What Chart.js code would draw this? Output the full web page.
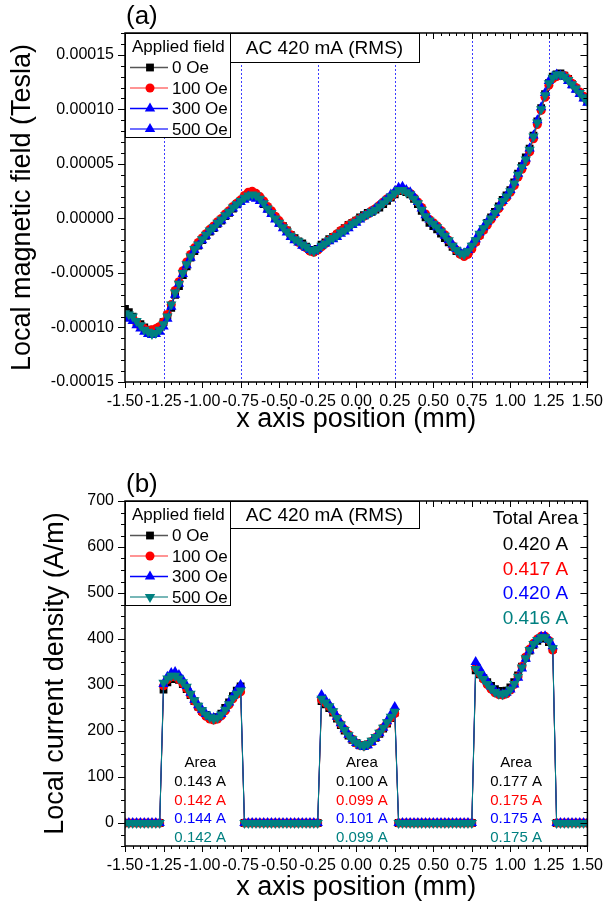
<!DOCTYPE html>
<html>
<head>
<meta charset="utf-8">
<title>Local magnetic field and current density</title>
<script src="https://cdn.jsdelivr.net/npm/chart.js@4.4.1/dist/chart.umd.min.js"></script>
<style>
  html, body { margin: 0; padding: 0; background: #fff; }
  body { width: 613px; height: 915px; position: relative; overflow: hidden; }
  canvas { position: absolute; left: 0; }
  #fieldChart { top: 0; }
  #densityChart { top: 450px; }
</style>
</head>
<body>
<canvas id="fieldChart" width="613" height="450"></canvas>
<canvas id="densityChart" width="613" height="465"></canvas>
<script>
// Données
const xTicks = [-1.5, -1.25, -1, -0.75, -0.5, -0.25, 0, 0.25, 0.5, 0.75, 1, 1.25, 1.5];
const fieldTicks = [-0.00015, -0.0001, -0.00005, 0, 0.00005, 0.0001, 0.00015];
const densityTicks = [0, 100, 200, 300, 400, 500, 600, 700];
const guideLines = [-1.25, -0.75, -0.25, 0.25, 0.75, 1.25];
const fieldLabels = ['0 Oe', '100 Oe', '300 Oe', '500 Oe'];
const totalAreas = ['0.420 A', '0.417 A', '0.420 A', '0.416 A'];
const areaLeft = ['0.143 A', '0.142 A', '0.144 A', '0.142 A'];
const areaMiddle = ['0.100 A', '0.099 A', '0.101 A', '0.099 A'];
const areaRight = ['0.177 A', '0.175 A', '0.175 A', '0.175 A'];

// Positions de mesure (mm), communes aux deux graphiques
const positionX = [
  -1.5, -1.475, -1.45, -1.425, -1.4, -1.375, -1.35, -1.325, -1.3, -1.275,
  -1.25, -1.225, -1.2, -1.175, -1.15, -1.125, -1.1, -1.075, -1.05, -1.025,
  -1, -0.975, -0.95, -0.925, -0.9, -0.875, -0.85, -0.825, -0.8, -0.775,
  -0.75, -0.725, -0.7, -0.675, -0.65, -0.625, -0.6, -0.575, -0.55, -0.525,
  -0.5, -0.475, -0.45, -0.425, -0.4, -0.375, -0.35, -0.325, -0.3, -0.275,
  -0.25, -0.225, -0.2, -0.175, -0.15, -0.125, -0.1, -0.075, -0.05, -0.025,
  0, 0.025, 0.05, 0.075, 0.1, 0.125, 0.15, 0.175, 0.2, 0.225,
  0.25, 0.275, 0.3, 0.325, 0.35, 0.375, 0.4, 0.425, 0.45, 0.475,
  0.5, 0.525, 0.55, 0.575, 0.6, 0.625, 0.65, 0.675, 0.7, 0.725,
  0.75, 0.775, 0.8, 0.825, 0.85, 0.875, 0.9, 0.925, 0.95, 0.975,
  1, 1.025, 1.05, 1.075, 1.1, 1.125, 1.15, 1.175, 1.2, 1.225,
  1.25, 1.275, 1.3, 1.325, 1.35, 1.375, 1.4, 1.425, 1.45, 1.475,
  1.5
];

// (a) champ magnétique local (Tesla)
const field0 = [
  -8.3e-5, -8.6e-5, -9.0e-5, -9.5e-5, -9.7e-5, -10.0e-5, -10.2e-5, -10.4e-5, -10.3e-5, -10.0e-5,
  -9.5e-5, -8.9e-5, -8.2e-5, -7.0e-5, -6.2e-5, -5.2e-5, -4.4e-5, -3.6e-5, -3.0e-5, -2.5e-5,
  -2.0e-5, -1.6e-5, -1.2e-5, -0.9e-5, -0.5e-5, -0.2e-5, 0.2e-5, 0.5e-5, 0.9e-5, 1.3e-5,
  1.6e-5, 1.9e-5, 2.2e-5, 2.2e-5, 2.0e-5, 1.7e-5, 1.3e-5, 0.9e-5, 0.5e-5, 0.1e-5,
  -0.4e-5, -0.7e-5, -1.1e-5, -1.5e-5, -1.8e-5, -2.1e-5, -2.3e-5, -2.6e-5, -2.9e-5, -2.9e-5,
  -2.8e-5, -2.4e-5, -2.2e-5, -1.9e-5, -1.7e-5, -1.5e-5, -1.2e-5, -0.9e-5, -0.6e-5, -0.4e-5,
  -0.2e-5, 0.1e-5, 0.3e-5, 0.5e-5, 0.6e-5, 0.8e-5, 1.0e-5, 1.3e-5, 1.6e-5, 1.9e-5,
  2.2e-5, 2.5e-5, 2.6e-5, 2.4e-5, 2.2e-5, 1.8e-5, 1.3e-5, 0.7e-5, 0.1e-5, -0.4e-5,
  -0.7e-5, -1.0e-5, -1.4e-5, -1.8e-5, -2.2e-5, -2.6e-5, -3.0e-5, -3.2e-5, -3.3e-5, -3.1e-5,
  -2.6e-5, -2.1e-5, -1.5e-5, -1.0e-5, -0.4e-5, 0.1e-5, 0.6e-5, 1.1e-5, 1.7e-5, 2.1e-5,
  2.6e-5, 3.3e-5, 4.1e-5, 4.8e-5, 5.6e-5, 6.4e-5, 7.6e-5, 8.9e-5, 10.1e-5, 11.4e-5,
  12.4e-5, 13.0e-5, 13.2e-5, 13.3e-5, 13.1e-5, 12.8e-5, 12.3e-5, 11.9e-5, 11.5e-5, 11.1e-5,
  10.7e-5
];
const field100 = [
  -8.8e-5, -9.0e-5, -9.2e-5, -9.5e-5, -9.9e-5, -10.1e-5, -10.3e-5, -10.2e-5, -10.1e-5, -9.9e-5,
  -9.5e-5, -8.8e-5, -7.9e-5, -6.6e-5, -5.8e-5, -4.8e-5, -4.0e-5, -3.3e-5, -2.7e-5, -2.2e-5,
  -1.8e-5, -1.4e-5, -1.0e-5, -0.7e-5, -0.3e-5, 0.0e-5, 0.4e-5, 0.7e-5, 1.1e-5, 1.4e-5,
  1.7e-5, 2.1e-5, 2.4e-5, 2.5e-5, 2.3e-5, 2.0e-5, 1.6e-5, 1.1e-5, 0.7e-5, 0.2e-5,
  -0.2e-5, -0.7e-5, -1.1e-5, -1.5e-5, -1.9e-5, -2.2e-5, -2.5e-5, -2.7e-5, -3.0e-5, -3.1e-5,
  -2.9e-5, -2.6e-5, -2.3e-5, -2.0e-5, -1.7e-5, -1.4e-5, -1.1e-5, -0.9e-5, -0.6e-5, -0.4e-5,
  -0.2e-5, 0.0e-5, 0.2e-5, 0.4e-5, 0.7e-5, 0.9e-5, 1.2e-5, 1.5e-5, 1.8e-5, 2.0e-5,
  2.3e-5, 2.6e-5, 2.6e-5, 2.5e-5, 2.3e-5, 1.9e-5, 1.5e-5, 1.0e-5, 0.4e-5, -0.1e-5,
  -0.4e-5, -0.7e-5, -1.1e-5, -1.5e-5, -2.0e-5, -2.5e-5, -2.9e-5, -3.3e-5, -3.5e-5, -3.3e-5,
  -2.8e-5, -2.2e-5, -1.6e-5, -1.1e-5, -0.6e-5, -0.1e-5, 0.4e-5, 0.9e-5, 1.5e-5, 1.9e-5,
  2.4e-5, 3.0e-5, 3.8e-5, 4.5e-5, 5.2e-5, 6.1e-5, 7.3e-5, 8.6e-5, 9.9e-5, 11.1e-5,
  12.2e-5, 12.8e-5, 13.0e-5, 13.1e-5, 13.1e-5, 12.8e-5, 12.4e-5, 12.0e-5, 11.6e-5, 11.2e-5,
  10.8e-5
];
const field300 = [
  -9.0e-5, -9.2e-5, -9.4e-5, -9.8e-5, -10.1e-5, -10.4e-5, -10.6e-5, -10.7e-5, -10.6e-5, -10.4e-5,
  -9.9e-5, -9.2e-5, -8.1e-5, -7.0e-5, -6.0e-5, -5.1e-5, -4.3e-5, -3.6e-5, -2.9e-5, -2.5e-5,
  -2.0e-5, -1.6e-5, -1.2e-5, -0.9e-5, -0.5e-5, -0.2e-5, 0.2e-5, 0.5e-5, 0.9e-5, 1.2e-5,
  1.5e-5, 1.7e-5, 2.0e-5, 1.9e-5, 1.8e-5, 1.6e-5, 1.3e-5, 0.8e-5, 0.4e-5, -0.1e-5,
  -0.5e-5, -0.9e-5, -1.3e-5, -1.7e-5, -2.0e-5, -2.2e-5, -2.5e-5, -2.7e-5, -2.9e-5, -3.0e-5,
  -2.8e-5, -2.5e-5, -2.3e-5, -2.1e-5, -1.9e-5, -1.7e-5, -1.4e-5, -1.2e-5, -0.9e-5, -0.6e-5,
  -0.4e-5, -0.1e-5, 0.2e-5, 0.4e-5, 0.6e-5, 0.9e-5, 1.2e-5, 1.5e-5, 1.8e-5, 2.2e-5,
  2.5e-5, 2.8e-5, 2.9e-5, 2.6e-5, 2.4e-5, 2.0e-5, 1.5e-5, 0.9e-5, 0.3e-5, -0.1e-5,
  -0.5e-5, -0.8e-5, -1.2e-5, -1.6e-5, -2.0e-5, -2.4e-5, -2.8e-5, -3.1e-5, -3.2e-5, -2.9e-5,
  -2.4e-5, -1.9e-5, -1.3e-5, -0.8e-5, -0.3e-5, 0.1e-5, 0.5e-5, 1.1e-5, 1.6e-5, 2.1e-5,
  2.6e-5, 3.3e-5, 4.1e-5, 4.8e-5, 5.5e-5, 6.4e-5, 7.6e-5, 9.0e-5, 10.2e-5, 11.5e-5,
  12.6e-5, 13.0e-5, 13.2e-5, 13.1e-5, 13.0e-5, 12.6e-5, 12.2e-5, 11.8e-5, 11.4e-5, 11.0e-5,
  10.6e-5
];
const field500 = [
  -8.7e-5, -8.8e-5, -9.0e-5, -9.4e-5, -9.8e-5, -10.2e-5, -10.4e-5, -10.6e-5, -10.5e-5, -10.2e-5,
  -9.7e-5, -9.0e-5, -7.9e-5, -6.8e-5, -6.0e-5, -5.0e-5, -4.2e-5, -3.5e-5, -2.8e-5, -2.4e-5,
  -1.9e-5, -1.5e-5, -1.1e-5, -0.8e-5, -0.4e-5, -0.1e-5, 0.3e-5, 0.6e-5, 1.0e-5, 1.3e-5,
  1.6e-5, 1.9e-5, 2.1e-5, 2.2e-5, 2.1e-5, 1.8e-5, 1.4e-5, 0.9e-5, 0.5e-5, 0.0e-5,
  -0.4e-5, -0.8e-5, -1.2e-5, -1.6e-5, -1.9e-5, -2.1e-5, -2.4e-5, -2.6e-5, -2.9e-5, -3.0e-5,
  -2.8e-5, -2.5e-5, -2.3e-5, -2.0e-5, -1.8e-5, -1.6e-5, -1.3e-5, -1.1e-5, -0.8e-5, -0.5e-5,
  -0.3e-5, 0.0e-5, 0.2e-5, 0.4e-5, 0.6e-5, 0.8e-5, 1.1e-5, 1.4e-5, 1.7e-5, 2.0e-5,
  2.3e-5, 2.6e-5, 2.6e-5, 2.4e-5, 2.2e-5, 1.8e-5, 1.4e-5, 0.8e-5, 0.2e-5, -0.2e-5,
  -0.5e-5, -0.8e-5, -1.2e-5, -1.6e-5, -2.0e-5, -2.5e-5, -2.9e-5, -3.2e-5, -3.3e-5, -3.0e-5,
  -2.5e-5, -2.0e-5, -1.4e-5, -0.9e-5, -0.4e-5, 0.0e-5, 0.5e-5, 1.0e-5, 1.6e-5, 2.0e-5,
  2.5e-5, 3.2e-5, 4.0e-5, 4.7e-5, 5.4e-5, 6.3e-5, 7.5e-5, 8.8e-5, 10.0e-5, 11.3e-5,
  12.4e-5, 12.9e-5, 13.2e-5, 13.2e-5, 13.0e-5, 12.7e-5, 12.3e-5, 11.9e-5, 11.5e-5, 11.1e-5,
  10.7e-5
];

// (b) densité de courant locale (A/m)
const density0 = [
  0, 0, 0, 0, 0, 0, 0, 0, 0, 0,
  290, 306, 313, 315, 311, 302, 291, 278, 265, 253, 243, 235, 229, 227, 230, 238, 250, 262, 276, 288, 297,
  0, 0, 0, 0, 0, 0, 0, 0, 0, 0, 0, 0, 0, 0, 0, 0, 0, 0, 0, 0,
  265, 258, 250, 240, 227, 213, 201, 190, 181, 174, 169, 168, 171, 177, 185, 194, 205, 216, 228, 240,
  0, 0, 0, 0, 0, 0, 0, 0, 0, 0, 0, 0, 0, 0, 0, 0, 0, 0, 0, 0,
  332, 323, 315, 306, 298, 291, 287, 286, 288, 295, 306, 321, 340, 359, 375, 387, 396, 401, 402, 393, 378,
  0, 0, 0, 0, 0, 0, 0, 0, 0
];
const density100 = [
  0, 0, 0, 0, 0, 0, 0, 0, 0, 0,
  298, 312, 318, 318, 312, 303, 292, 279, 265, 252, 241, 232, 226, 224, 226, 233, 244, 257, 270, 280, 285,
  0, 0, 0, 0, 0, 0, 0, 0, 0, 0, 0, 0, 0, 0, 0, 0, 0, 0, 0, 0,
  268, 261, 253, 242, 229, 215, 203, 192, 182, 174, 169, 167, 170, 177, 186, 196, 207, 218, 229, 238,
  0, 0, 0, 0, 0, 0, 0, 0, 0, 0, 0, 0, 0, 0, 0, 0, 0, 0, 0, 0,
  337, 325, 313, 301, 291, 283, 279, 278, 281, 289, 301, 318, 340, 361, 378, 391, 400, 406, 406, 397, 376,
  0, 0, 0, 0, 0, 0, 0, 0, 0
];
const density300 = [
  0, 0, 0, 0, 0, 0, 0, 0, 0, 0,
  302, 318, 326, 328, 322, 311, 298, 283, 268, 256, 246, 237, 231, 228, 230, 237, 249, 262, 276, 289, 300,
  0, 0, 0, 0, 0, 0, 0, 0, 0, 0, 0, 0, 0, 0, 0, 0, 0, 0, 0, 0,
  278, 268, 258, 246, 231, 217, 204, 192, 182, 174, 168, 165, 169, 176, 185, 195, 207, 221, 236, 252,
  0, 0, 0, 0, 0, 0, 0, 0, 0, 0, 0, 0, 0, 0, 0, 0, 0, 0, 0, 0,
  350, 336, 321, 308, 297, 288, 282, 280, 283, 290, 301, 316, 336, 357, 375, 388, 398, 405, 406, 398, 384,
  0, 0, 0, 0, 0, 0, 0, 0, 0
];
const density500 = [
  0, 0, 0, 0, 0, 0, 0, 0, 0, 0,
  305, 314, 320, 320, 314, 306, 296, 281, 267, 255, 245, 236, 230, 226, 229, 236, 246, 258, 271, 281, 288,
  0, 0, 0, 0, 0, 0, 0, 0, 0, 0, 0, 0, 0, 0, 0, 0, 0, 0, 0, 0,
  270, 262, 254, 243, 228, 214, 202, 191, 182, 175, 170, 168, 172, 179, 187, 196, 207, 219, 231, 242,
  0, 0, 0, 0, 0, 0, 0, 0, 0, 0, 0, 0, 0, 0, 0, 0, 0, 0, 0, 0,
  335, 324, 313, 302, 293, 285, 281, 280, 283, 290, 302, 318, 338, 358, 376, 389, 398, 404, 404, 395, 380,
  0, 0, 0, 0, 0, 0, 0, 0, 0
];

const FONT = "'Liberation Sans', Arial, sans-serif";
const BLACK = '#000000', RED = '#ff0000', BLUE = '#0000ff', TEAL = '#008080';
Chart.defaults.font.family = FONT;
Chart.defaults.color = '#000';

// Dessine un symbole (carré, rond, triangle)
function drawMarker(ctx, style, x, y, r, color, down) {
  ctx.fillStyle = color;
  ctx.beginPath();
  if (style === 'rect') {
    ctx.rect(x - r * 0.71, y - r * 0.71, r * 1.42, r * 1.42);
  } else if (style === 'circle') {
    ctx.arc(x, y, r, 0, Math.PI * 2);
  } else {
    const d = down ? -1 : 1;
    ctx.moveTo(x, y - r * d);
    ctx.lineTo(x + r * 0.866, y + r * 0.5 * d);
    ctx.lineTo(x - r * 0.866, y + r * 0.5 * d);
    ctx.closePath();
  }
  ctx.fill();
}

// Lignes verticales pointillées
const guidePlugin = {
  id: 'guides',
  beforeDatasetsDraw(chart, args, opts) {
    if (!opts.lines) return;
    const {ctx, chartArea: a, scales: {x}} = chart;
    ctx.save();
    ctx.strokeStyle = '#3b3bff';
    ctx.lineWidth = 1;
    ctx.setLineDash([2, 2]);
    opts.lines.forEach(function(v) {
      const px = Math.round(x.getPixelForValue(v)) + 0.5;
      ctx.beginPath();
      ctx.moveTo(px, a.top);
      ctx.lineTo(px, a.bottom);
      ctx.stroke();
    });
    ctx.restore();
  }
};

// Cadre avec graduations majeures et mineures
const framePlugin = {
  id: 'frame',
  afterDatasetsDraw(chart, args, opts) {
    const {ctx, chartArea: a, scales: {x, y}} = chart;
    ctx.save();
    ctx.strokeStyle = '#000';
    ctx.lineWidth = 1;
    ctx.beginPath();
    const isMajor = (scale, v) => scale.ticks.some(t => Math.abs(t.value - v) < opts.eps);
    let n = Math.round((x.max - x.min) / opts.xMinor);
    for (let i = 0; i <= n; i++) {
      const v = x.min + i * opts.xMinor;
      const px = Math.round(x.getPixelForValue(v)) + 0.5;
      const len = isMajor(x, v) ? 6 : 3;
      ctx.moveTo(px, a.bottom); ctx.lineTo(px, a.bottom + len);
      ctx.moveTo(px, a.top); ctx.lineTo(px, a.top + len);
    }
    n = Math.round((y.max - y.min) / opts.yMinor);
    for (let i = 0; i <= n; i++) {
      const v = y.min + i * opts.yMinor;
      const py = Math.round(y.getPixelForValue(v)) + 0.5;
      const len = isMajor(y, v) ? 7 : 4;
      ctx.moveTo(a.left, py); ctx.lineTo(a.left - len, py);
      ctx.moveTo(a.right, py); ctx.lineTo(a.right - len, py);
    }
    ctx.stroke();
    ctx.lineWidth = 1.5;
    ctx.strokeRect(a.left, a.top, a.right - a.left, a.bottom - a.top);
    ctx.restore();
  }
};

// Légende "Applied field", encadré "AC 420 mA (RMS)", étiquette du panneau et textes
const notesPlugin = {
  id: 'notes',
  afterDraw(chart, args, opts) {
    const {ctx, chartArea: a, scales: {x}} = chart;
    ctx.save();
    ctx.textBaseline = 'middle';

    // (a) / (b)
    ctx.fillStyle = '#000';
    ctx.font = '26px ' + FONT;
    ctx.textAlign = 'left';
    ctx.fillText(opts.panel, a.left + 1, a.top - 16);

    // légende
    const lx = a.left, ly = a.top, lw = 105, lh = opts.legendHeight;
    ctx.fillStyle = '#fff';
    ctx.fillRect(lx, ly, lw, lh);
    ctx.strokeStyle = '#000';
    ctx.lineWidth = 1;
    ctx.strokeRect(lx + 0.5, ly + 0.5, lw, lh);
    ctx.fillStyle = '#000';
    ctx.font = '17px ' + FONT;
    ctx.fillText('Applied field', lx + 7, ly + 14);
    const rows = [34.5, 55, 75.5, 96];
    opts.legend.forEach(function(item, i) {
      const ry = ly + rows[i];
      ctx.strokeStyle = item.line;
      ctx.lineWidth = 1.5;
      ctx.beginPath();
      ctx.moveTo(lx + 5, ry);
      ctx.lineTo(lx + 43, ry);
      ctx.stroke();
      drawMarker(ctx, item.style, lx + 25, ry, item.r, item.color, item.down);
      ctx.fillStyle = '#000';
      ctx.fillText(fieldLabels[i], lx + 47, ry + 1);
    });

    // encadré du courant
    const bx = lx + lw, bw = 189, bh = opts.boxHeight;
    ctx.fillStyle = '#fff';
    ctx.fillRect(bx, ly, bw, bh);
    ctx.strokeStyle = '#000';
    ctx.lineWidth = 1;
    ctx.strokeRect(bx + 0.5, ly + 0.5, bw, bh);
    ctx.fillStyle = '#000';
    ctx.font = '19px ' + FONT;
    ctx.textAlign = 'center';
    ctx.fillText('AC 420 mA (RMS)', bx + bw / 2, ly + bh / 2 + 1);

    // aires
    if (opts.areas) {
      const cols = [BLACK, RED, BLUE, TEAL];
      ctx.font = '19px ' + FONT;
      ctx.fillText('Total Area', a.right - 52, a.top + 18);
      totalAreas.forEach(function(t, i) {
        ctx.fillStyle = cols[i];
        ctx.fillText(t, a.right - 52, a.top + 44 + i * 24.5);
      });
      ctx.font = '15px ' + FONT;
      opts.areas.forEach(function(group) {
        const cx = x.getPixelForValue(group.at);
        ctx.fillStyle = '#000';
        ctx.fillText('Area', cx, a.top + 262);
        group.values.forEach(function(t, i) {
          ctx.fillStyle = cols[i];
          ctx.fillText(t, cx, a.top + 281 + i * 18.5);
        });
      });
    }
    ctx.restore();
  }
};

function makeSeries(ys, label, color, style, radius, order, down) {
  return {
    label: label,
    data: ys.map(function(v, i) { return {x: positionX[i], y: v}; }),
    borderColor: color,
    backgroundColor: color,
    borderWidth: 1,
    pointStyle: style,
    pointRadius: radius,
    pointBorderWidth: 0,
    pointRotation: down ? 180 : 0,
    tension: 0,
    order: order
  };
}

function makeOptions(cfg) {
  return {
    responsive: false,
    animation: false,
    events: [],
    layout: {padding: {left: 0, right: 16, top: cfg.top, bottom: 0}},
    scales: {
      x: {
        type: 'linear',
        min: -1.5,
        max: 1.5,
        afterBuildTicks: function(s) { s.ticks = xTicks.map(v => ({value: v})); },
        afterFit: function(s) { s.height = cfg.xHeight; },
        grid: {display: false, drawTicks: false},
        border: {display: false},
        ticks: {
          padding: 10, maxRotation: 0, autoSkip: false, color: '#000',
          font: {size: 16},
          callback: v => Number(v).toFixed(2)
        },
        title: {
          display: true, text: 'x axis position (mm)', color: '#000',
          font: {size: 27}, padding: {top: 0, bottom: cfg.xTitlePad}
        }
      },
      y: {
        type: 'linear',
        min: cfg.yMin,
        max: cfg.yMax,
        afterBuildTicks: function(s) { s.ticks = cfg.yTicks.map(v => ({value: v})); },
        afterFit: function(s) { s.width = 125; },
        grid: {display: false, drawTicks: false},
        border: {display: false},
        ticks: {
          padding: 11, color: '#000', font: {size: 16},
          callback: cfg.yFormat
        },
        title: {
          display: true, text: cfg.yTitle, color: '#000',
          font: {size: 27}, padding: {top: cfg.yTitlePad, bottom: 0}
        }
      }
    },
    plugins: {
      legend: {display: false},
      tooltip: {enabled: false},
      guides: {lines: cfg.guides},
      frame: {xMinor: 0.05, yMinor: cfg.yMinor, eps: cfg.eps},
      notes: cfg.notes
    }
  };
}

// Graphique (a)
new Chart(document.getElementById('fieldChart'), {
  type: 'line',
  data: {
    datasets: [
      makeSeries(field0, fieldLabels[0], BLACK, 'rect', 5.5, 4),
      makeSeries(field100, fieldLabels[1], RED, 'circle', 4.5, 3),
      makeSeries(field300, fieldLabels[2], BLUE, 'triangle', 6, 2),
      makeSeries(field500, fieldLabels[3], TEAL, 'triangle', 6, 1, true)
    ]
  },
  options: makeOptions({
    top: 33, xHeight: 68, xTitlePad: 14,
    yMin: -0.00015, yMax: 0.00017, yTicks: fieldTicks, yMinor: 0.00001, eps: 1e-9,
    yFormat: v => Number(v).toFixed(5),
    yTitle: 'Local magnetic field (Tesla)', yTitlePad: 6,
    guides: guideLines,
    notes: {
      panel: '(a)', legendHeight: 104, boxHeight: 29,
      legend: [
        {color: BLACK, line: '#555', style: 'rect', r: 5.5},
        {color: RED, line: '#ff7070', style: 'circle', r: 4.5},
        {color: BLUE, line: BLUE, style: 'triangle', r: 6},
        {color: BLUE, line: '#3f3fff', style: 'triangle', r: 6}
      ]
    }
  }),
  plugins: [guidePlugin, framePlugin, notesPlugin]
});

// Graphique (b)
new Chart(document.getElementById('densityChart'), {
  type: 'line',
  data: {
    datasets: [
      makeSeries(density0, fieldLabels[0], BLACK, 'rect', 5.5, 4),
      makeSeries(density100, fieldLabels[1], RED, 'circle', 4.5, 3),
      makeSeries(density300, fieldLabels[2], BLUE, 'triangle', 6, 2),
      makeSeries(density500, fieldLabels[3], TEAL, 'triangle', 6, 1, true)
    ]
  },
  options: makeOptions({
    top: 51, xHeight: 69, xTitlePad: 11,
    yMin: -50, yMax: 700, yTicks: densityTicks, yMinor: 25, eps: 1e-6,
    yFormat: v => String(v),
    yTitle: 'Local current density (A/m)', yTitlePad: 39,
    guides: null,
    notes: {
      panel: '(b)', legendHeight: 104, boxHeight: 27,
      legend: [
        {color: BLACK, line: '#555', style: 'rect', r: 5.5},
        {color: RED, line: '#ff7070', style: 'circle', r: 4.5},
        {color: BLUE, line: BLUE, style: 'triangle', r: 6},
        {color: TEAL, line: '#4a9f9f', style: 'triangle', r: 6, down: true}
      ],
      areas: [
        {at: -1.012, values: areaLeft},
        {at: 0.037, values: areaMiddle},
        {at: 1.037, values: areaRight}
      ]
    }
  }),
  plugins: [guidePlugin, framePlugin, notesPlugin]
});
</script>
</body>
</html>
